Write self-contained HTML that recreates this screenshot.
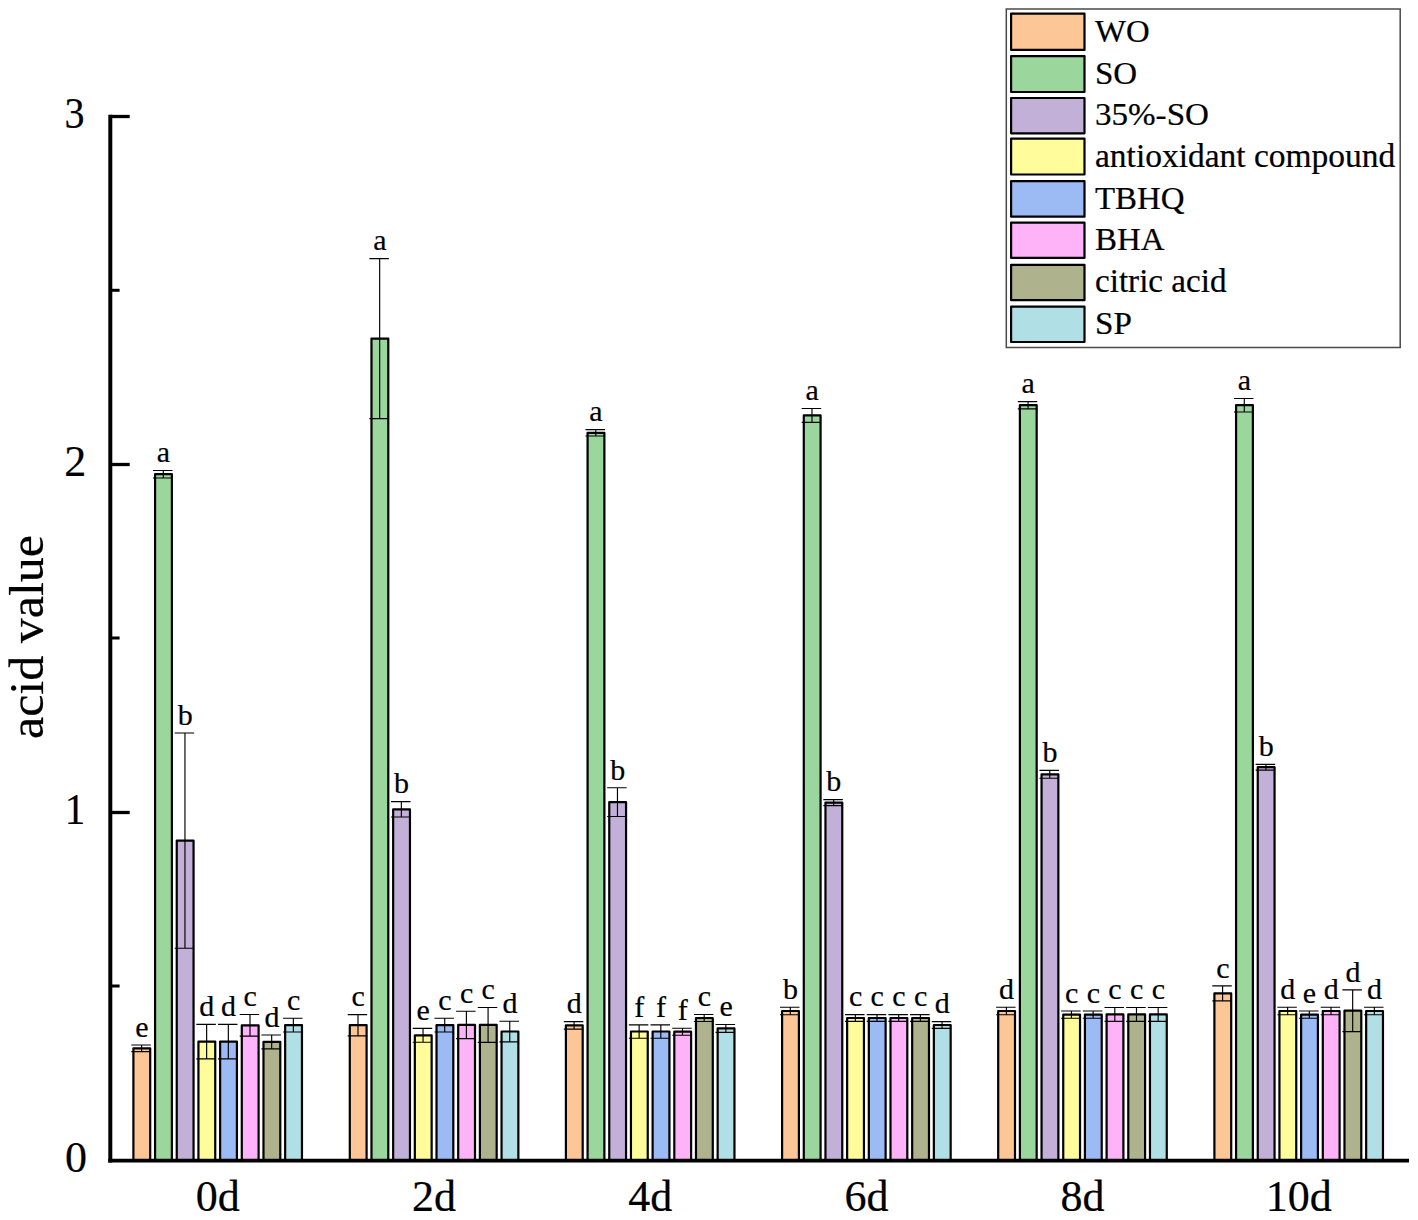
<!DOCTYPE html>
<html><head><meta charset="utf-8"><title>acid value</title>
<style>html,body{margin:0;padding:0;background:#fff;}svg{display:block;}text{font-family:"Liberation Serif",serif;fill:#000;}</style></head><body>
<svg width="1418" height="1220" viewBox="0 0 1418 1220">
<rect x="0" y="0" width="1418" height="1220" fill="#ffffff"/>
<g stroke="#000" stroke-width="2.20" stroke-linejoin="round">
<rect x="133.40" y="1048.30" width="16.80" height="112.30" fill="#fdc696"/>
<rect x="155.08" y="474.20" width="16.80" height="686.40" fill="#9bd69c"/>
<rect x="176.76" y="840.60" width="16.80" height="320.00" fill="#c2b0d8"/>
<rect x="198.44" y="1041.60" width="16.80" height="119.00" fill="#fffc9c"/>
<rect x="220.12" y="1041.60" width="16.80" height="119.00" fill="#9cbaf3"/>
<rect x="241.80" y="1025.30" width="16.80" height="135.30" fill="#feb2f8"/>
<rect x="263.48" y="1041.90" width="16.80" height="118.70" fill="#aeb38d"/>
<rect x="285.16" y="1025.10" width="16.80" height="135.50" fill="#b0e0e6"/>
<rect x="349.80" y="1025.20" width="16.80" height="135.40" fill="#fdc696"/>
<rect x="371.48" y="338.60" width="16.80" height="822.00" fill="#9bd69c"/>
<rect x="393.16" y="809.30" width="16.80" height="351.30" fill="#c2b0d8"/>
<rect x="414.84" y="1035.30" width="16.80" height="125.30" fill="#fffc9c"/>
<rect x="436.52" y="1025.10" width="16.80" height="135.50" fill="#9cbaf3"/>
<rect x="458.20" y="1024.90" width="16.80" height="135.70" fill="#feb2f8"/>
<rect x="479.88" y="1024.90" width="16.80" height="135.70" fill="#aeb38d"/>
<rect x="501.56" y="1031.50" width="16.80" height="129.10" fill="#b0e0e6"/>
<rect x="565.90" y="1025.30" width="16.80" height="135.30" fill="#fdc696"/>
<rect x="587.58" y="432.80" width="16.80" height="727.80" fill="#9bd69c"/>
<rect x="609.26" y="802.10" width="16.80" height="358.50" fill="#c2b0d8"/>
<rect x="630.94" y="1031.50" width="16.80" height="129.10" fill="#fffc9c"/>
<rect x="652.62" y="1031.50" width="16.80" height="129.10" fill="#9cbaf3"/>
<rect x="674.30" y="1031.70" width="16.80" height="128.90" fill="#feb2f8"/>
<rect x="695.98" y="1018.00" width="16.80" height="142.60" fill="#aeb38d"/>
<rect x="717.66" y="1028.40" width="16.80" height="132.20" fill="#b0e0e6"/>
<rect x="782.10" y="1011.00" width="16.80" height="149.60" fill="#fdc696"/>
<rect x="803.78" y="415.40" width="16.80" height="745.20" fill="#9bd69c"/>
<rect x="825.46" y="802.60" width="16.80" height="358.00" fill="#c2b0d8"/>
<rect x="847.14" y="1018.00" width="16.80" height="142.60" fill="#fffc9c"/>
<rect x="868.82" y="1018.00" width="16.80" height="142.60" fill="#9cbaf3"/>
<rect x="890.50" y="1018.00" width="16.80" height="142.60" fill="#feb2f8"/>
<rect x="912.18" y="1018.00" width="16.80" height="142.60" fill="#aeb38d"/>
<rect x="933.86" y="1025.00" width="16.80" height="135.60" fill="#b0e0e6"/>
<rect x="998.20" y="1011.00" width="16.80" height="149.60" fill="#fdc696"/>
<rect x="1019.88" y="405.20" width="16.80" height="755.40" fill="#9bd69c"/>
<rect x="1041.56" y="774.30" width="16.80" height="386.30" fill="#c2b0d8"/>
<rect x="1063.24" y="1014.60" width="16.80" height="146.00" fill="#fffc9c"/>
<rect x="1084.92" y="1014.60" width="16.80" height="146.00" fill="#9cbaf3"/>
<rect x="1106.60" y="1014.40" width="16.80" height="146.20" fill="#feb2f8"/>
<rect x="1128.28" y="1014.40" width="16.80" height="146.20" fill="#aeb38d"/>
<rect x="1149.96" y="1014.40" width="16.80" height="146.20" fill="#b0e0e6"/>
<rect x="1214.40" y="993.40" width="16.80" height="167.20" fill="#fdc696"/>
<rect x="1236.08" y="405.20" width="16.80" height="755.40" fill="#9bd69c"/>
<rect x="1257.76" y="767.20" width="16.80" height="393.40" fill="#c2b0d8"/>
<rect x="1279.44" y="1011.00" width="16.80" height="149.60" fill="#fffc9c"/>
<rect x="1301.12" y="1014.60" width="16.80" height="146.00" fill="#9cbaf3"/>
<rect x="1322.80" y="1011.00" width="16.80" height="149.60" fill="#feb2f8"/>
<rect x="1344.48" y="1010.70" width="16.80" height="149.90" fill="#aeb38d"/>
<rect x="1366.16" y="1011.00" width="16.80" height="149.60" fill="#b0e0e6"/>
</g>
<g stroke="#000" stroke-width="1.15" fill="none">
<path d="M141.60 1045.00V1051.60M131.30 1045.00H150.80M131.30 1051.60H150.80"/>
<path d="M163.28 470.45V477.95M152.98 470.45H172.48M152.98 477.95H172.48"/>
<path d="M184.96 733.00V948.20M174.66 733.00H194.16M174.66 948.20H194.16"/>
<path d="M206.64 1024.40V1058.80M196.34 1024.40H215.84M196.34 1058.80H215.84"/>
<path d="M228.32 1024.40V1058.80M218.02 1024.40H237.52M218.02 1058.80H237.52"/>
<path d="M250.00 1014.50V1036.10M239.70 1014.50H259.20M239.70 1036.10H259.20"/>
<path d="M271.68 1035.00V1048.80M261.38 1035.00H280.88M261.38 1048.80H280.88"/>
<path d="M293.36 1018.20V1032.00M283.06 1018.20H302.56M283.06 1032.00H302.56"/>
<path d="M358.00 1014.60V1035.80M347.70 1014.60H367.20M347.70 1035.80H367.20"/>
<path d="M379.68 258.60V418.60M369.38 258.60H388.88M369.38 418.60H388.88"/>
<path d="M401.36 801.60V817.00M391.06 801.60H410.56M391.06 817.00H410.56"/>
<path d="M423.04 1028.40V1042.20M412.74 1028.40H432.24M412.74 1042.20H432.24"/>
<path d="M444.72 1018.20V1032.00M434.42 1018.20H453.92M434.42 1032.00H453.92"/>
<path d="M466.40 1011.20V1038.60M456.10 1011.20H475.60M456.10 1038.60H475.60"/>
<path d="M488.08 1007.50V1042.30M477.78 1007.50H497.28M477.78 1042.30H497.28"/>
<path d="M509.76 1021.20V1041.80M499.46 1021.20H518.96M499.46 1041.80H518.96"/>
<path d="M574.10 1021.55V1029.05M563.80 1021.55H583.30M563.80 1029.05H583.30"/>
<path d="M595.78 429.60V436.00M585.48 429.60H604.98M585.48 436.00H604.98"/>
<path d="M617.46 787.70V816.50M607.16 787.70H626.66M607.16 816.50H626.66"/>
<path d="M639.14 1024.80V1038.20M628.84 1024.80H648.34M628.84 1038.20H648.34"/>
<path d="M660.82 1024.80V1038.20M650.52 1024.80H670.02M650.52 1038.20H670.02"/>
<path d="M682.50 1028.20V1035.20M672.20 1028.20H691.70M672.20 1035.20H691.70"/>
<path d="M704.18 1014.50V1021.50M693.88 1014.50H713.38M693.88 1021.50H713.38"/>
<path d="M725.86 1024.50V1032.30M715.56 1024.50H735.06M715.56 1032.30H735.06"/>
<path d="M790.30 1007.25V1014.75M780.00 1007.25H799.50M780.00 1014.75H799.50"/>
<path d="M811.98 408.50V422.30M801.68 408.50H821.18M801.68 422.30H821.18"/>
<path d="M833.66 799.60V805.60M823.36 799.60H842.86M823.36 805.60H842.86"/>
<path d="M855.34 1014.60V1021.40M845.04 1014.60H864.54M845.04 1021.40H864.54"/>
<path d="M877.02 1014.60V1021.40M866.72 1014.60H886.22M866.72 1021.40H886.22"/>
<path d="M898.70 1014.60V1021.40M888.40 1014.60H907.90M888.40 1021.40H907.90"/>
<path d="M920.38 1014.60V1021.40M910.08 1014.60H929.58M910.08 1021.40H929.58"/>
<path d="M942.06 1021.60V1028.40M931.76 1021.60H951.26M931.76 1028.40H951.26"/>
<path d="M1006.40 1007.25V1014.75M996.10 1007.25H1015.60M996.10 1014.75H1015.60"/>
<path d="M1028.08 401.60V408.80M1017.78 401.60H1037.28M1017.78 408.80H1037.28"/>
<path d="M1049.76 770.40V778.20M1039.46 770.40H1058.96M1039.46 778.20H1058.96"/>
<path d="M1071.44 1011.00V1018.20M1061.14 1011.00H1080.64M1061.14 1018.20H1080.64"/>
<path d="M1093.12 1011.00V1018.20M1082.82 1011.00H1102.32M1082.82 1018.20H1102.32"/>
<path d="M1114.80 1007.50V1021.30M1104.50 1007.50H1124.00M1104.50 1021.30H1124.00"/>
<path d="M1136.48 1007.50V1021.30M1126.18 1007.50H1145.68M1126.18 1021.30H1145.68"/>
<path d="M1158.16 1007.50V1021.30M1147.86 1007.50H1167.36M1147.86 1021.30H1167.36"/>
<path d="M1222.60 985.90V1000.90M1212.30 985.90H1231.80M1212.30 1000.90H1231.80"/>
<path d="M1244.28 398.45V411.95M1233.98 398.45H1253.48M1233.98 411.95H1253.48"/>
<path d="M1265.96 764.30V770.10M1255.66 764.30H1275.16M1255.66 770.10H1275.16"/>
<path d="M1287.64 1007.25V1014.75M1277.34 1007.25H1296.84M1277.34 1014.75H1296.84"/>
<path d="M1309.32 1011.00V1018.20M1299.02 1011.00H1318.52M1299.02 1018.20H1318.52"/>
<path d="M1331.00 1007.25V1014.75M1320.70 1007.25H1340.20M1320.70 1014.75H1340.20"/>
<path d="M1352.68 989.80V1031.60M1342.38 989.80H1361.88M1342.38 1031.60H1361.88"/>
<path d="M1374.36 1007.25V1014.75M1364.06 1007.25H1383.56M1364.06 1014.75H1383.56"/>
</g>
<g font-size="30" text-anchor="middle" stroke="#000" stroke-width="0.2">
<text x="141.80" y="1036.80">e</text>
<text x="163.48" y="462.25">a</text>
<text x="185.16" y="724.80">b</text>
<text x="206.84" y="1016.20">d</text>
<text x="228.52" y="1016.20">d</text>
<text x="250.20" y="1006.30">c</text>
<text x="271.88" y="1026.80">d</text>
<text x="293.56" y="1010.00">c</text>
<text x="358.20" y="1006.40">c</text>
<text x="379.88" y="250.40">a</text>
<text x="401.56" y="793.40">b</text>
<text x="423.24" y="1020.20">e</text>
<text x="444.92" y="1010.00">c</text>
<text x="466.60" y="1003.00">c</text>
<text x="488.28" y="999.30">c</text>
<text x="509.96" y="1013.00">d</text>
<text x="574.30" y="1013.35">d</text>
<text x="595.98" y="421.40">a</text>
<text x="617.66" y="779.50">b</text>
<text x="639.34" y="1016.60">f</text>
<text x="661.02" y="1016.60">f</text>
<text x="682.70" y="1020.00">f</text>
<text x="704.38" y="1006.30">c</text>
<text x="726.06" y="1016.30">e</text>
<text x="790.50" y="999.05">b</text>
<text x="812.18" y="400.30">a</text>
<text x="833.86" y="791.40">b</text>
<text x="855.54" y="1006.40">c</text>
<text x="877.22" y="1006.40">c</text>
<text x="898.90" y="1006.40">c</text>
<text x="920.58" y="1006.40">c</text>
<text x="942.26" y="1013.40">d</text>
<text x="1006.60" y="999.05">d</text>
<text x="1028.28" y="393.40">a</text>
<text x="1049.96" y="762.20">b</text>
<text x="1071.64" y="1002.80">c</text>
<text x="1093.32" y="1002.80">c</text>
<text x="1115.00" y="999.30">c</text>
<text x="1136.68" y="999.30">c</text>
<text x="1158.36" y="999.30">c</text>
<text x="1222.80" y="977.70">c</text>
<text x="1244.48" y="390.25">a</text>
<text x="1266.16" y="756.10">b</text>
<text x="1287.84" y="999.05">d</text>
<text x="1309.52" y="1002.80">e</text>
<text x="1331.20" y="999.05">d</text>
<text x="1352.88" y="981.60">d</text>
<text x="1374.56" y="999.05">d</text>
</g>
<g stroke="#000" fill="none">
<path d="M110.3 114.8V1162.6" stroke-width="4.0"/>
<path d="M108.3 1160.7H1409" stroke-width="3.8"/>
<path d="M110 116.5H129.7" stroke-width="3.3"/>
<path d="M110 464.5H129.7" stroke-width="3.3"/>
<path d="M110 812.5H129.7" stroke-width="3.3"/>
<path d="M110 290.3H119.6" stroke-width="3.0"/>
<path d="M110 638.0H119.6" stroke-width="3.0"/>
<path d="M110 986.0H119.6" stroke-width="3.0"/>
</g>
<g font-size="44" text-anchor="end">
<text x="84.4" y="128.3" textLength="20.0" lengthAdjust="spacingAndGlyphs" stroke="#000" stroke-width="0.22">3</text>
<text x="86.2" y="476.3" textLength="22.0" lengthAdjust="spacingAndGlyphs" stroke="#000" stroke-width="0.22">2</text>
<text x="85.2" y="824.3" textLength="20.5" lengthAdjust="spacingAndGlyphs" stroke="#000" stroke-width="0.22">1</text>
<text x="86.9" y="1172.3" textLength="22.0" lengthAdjust="spacingAndGlyphs" stroke="#000" stroke-width="0.22">0</text>
</g>
<g font-size="44" text-anchor="middle">
<text x="217.68" y="1211" stroke="#000" stroke-width="0.22">0d</text>
<text x="434.08" y="1211" stroke="#000" stroke-width="0.22">2d</text>
<text x="650.18" y="1211" stroke="#000" stroke-width="0.22">4d</text>
<text x="866.38" y="1211" stroke="#000" stroke-width="0.22">6d</text>
<text x="1082.48" y="1211" stroke="#000" stroke-width="0.22">8d</text>
<text x="1298.68" y="1211" stroke="#000" stroke-width="0.22">10d</text>
</g>
<text font-size="47.5" text-anchor="middle" textLength="204" lengthAdjust="spacingAndGlyphs" transform="translate(43.4 637) rotate(-90)" stroke="#000" stroke-width="0.22">acid value</text>
<rect x="1006.3" y="9" width="393.9" height="338.5" fill="#fff" stroke="#4a4a4a" stroke-width="1.5"/>
<g stroke="#000" stroke-width="2.2" stroke-linejoin="round">
<rect x="1011.1" y="13.60" width="73.4" height="36.30" fill="#fdc696"/>
<rect x="1011.1" y="56.10" width="73.4" height="35.90" fill="#9bd69c"/>
<rect x="1011.1" y="98.00" width="73.4" height="35.30" fill="#c2b0d8"/>
<rect x="1011.1" y="138.60" width="73.4" height="35.90" fill="#fffc9c"/>
<rect x="1011.1" y="181.10" width="73.4" height="35.55" fill="#9cbaf3"/>
<rect x="1011.1" y="222.60" width="73.4" height="35.30" fill="#feb2f8"/>
<rect x="1011.1" y="264.85" width="73.4" height="35.30" fill="#aeb38d"/>
<rect x="1011.1" y="306.70" width="73.4" height="35.30" fill="#b0e0e6"/>
</g>
<text x="1095" y="41.90" font-size="32" textLength="54.6" lengthAdjust="spacingAndGlyphs" stroke="#000" stroke-width="0.22">WO</text>
<text x="1095" y="84.40" font-size="32" textLength="42.2" lengthAdjust="spacingAndGlyphs" stroke="#000" stroke-width="0.22">SO</text>
<text x="1095" y="125.30" font-size="32" textLength="113.9" lengthAdjust="spacingAndGlyphs" stroke="#000" stroke-width="0.22">35%-SO</text>
<text x="1095" y="167.40" font-size="33" textLength="300.3" lengthAdjust="spacingAndGlyphs" stroke="#000" stroke-width="0.22">antioxidant compound</text>
<text x="1095" y="209.40" font-size="32" textLength="89.6" lengthAdjust="spacingAndGlyphs" stroke="#000" stroke-width="0.22">TBHQ</text>
<text x="1095" y="249.90" font-size="32" textLength="69.6" lengthAdjust="spacingAndGlyphs" stroke="#000" stroke-width="0.22">BHA</text>
<text x="1095" y="292.00" font-size="33" textLength="131.5" lengthAdjust="spacingAndGlyphs" stroke="#000" stroke-width="0.22">citric acid</text>
<text x="1095" y="333.50" font-size="32" textLength="36.8" lengthAdjust="spacingAndGlyphs" stroke="#000" stroke-width="0.22">SP</text>
</svg></body></html>
